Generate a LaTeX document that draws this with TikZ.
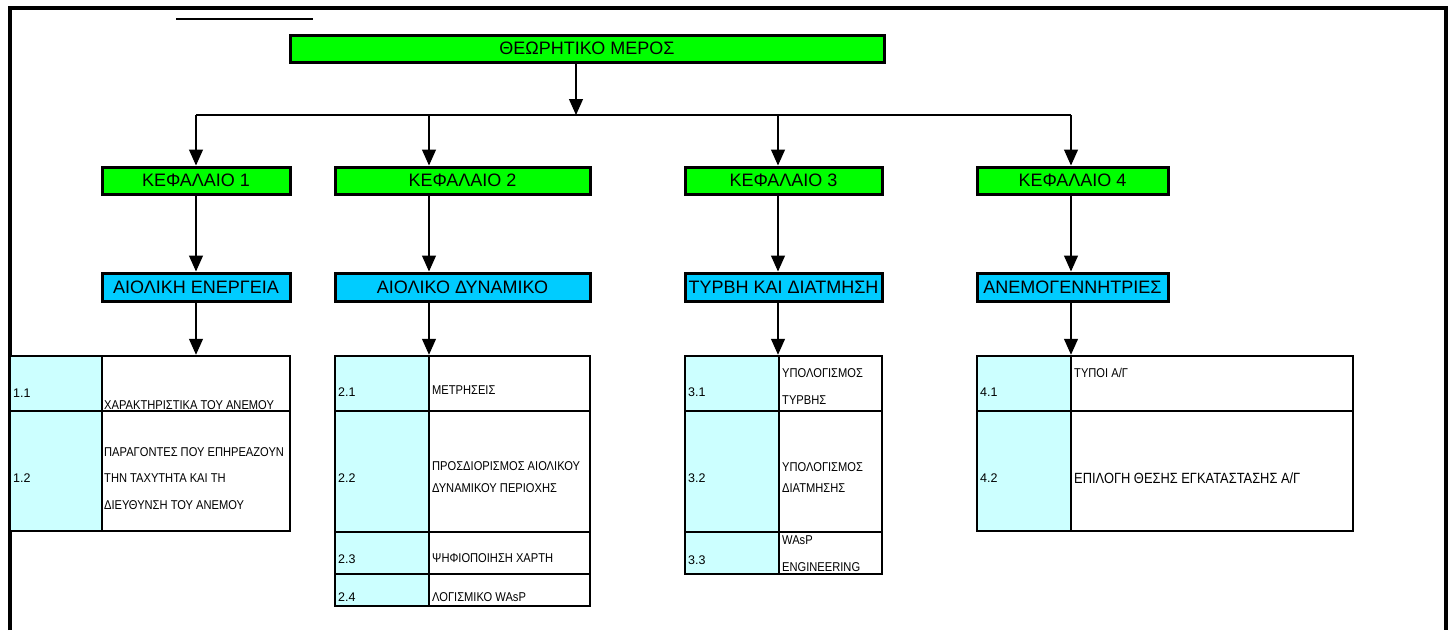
\documentclass[tikz,border=0pt]{standalone}
\usepackage{fontspec}
\setmainfont{Liberation Sans}
\newfontfamily\condfont[FakeStretch=0.87]{Liberation Sans}
\usetikzlibrary{arrows.meta}
\definecolor{cgreen}{RGB}{0,255,0}
\definecolor{cblue}{RGB}{0,204,255}
\definecolor{ccyan}{RGB}{204,255,255}
\begin{document}
\begin{tikzpicture}[x=1pt,y=-1pt,
  box/.style={draw, line width=3pt, inner sep=0pt, font=\fontsize{18}{20}\selectfont},
  gbox/.style={box, fill=cgreen},
  bbox/.style={box, fill=cblue},
  numcell/.style={draw, line width=2.5pt, fill=ccyan, inner sep=0pt},
  txtcell/.style={draw, line width=2.5pt, fill=white, inner sep=0pt},
  lbl/.style={anchor=west, inner sep=0pt, font=\condfont\fontsize{12.8}{14}\selectfont},
  lblb/.style={anchor=west, inner sep=0pt, font=\condfont\fontsize{14.8}{16}\selectfont},
  num/.style={anchor=west, inner sep=0pt, font=\fontsize{12.5}{14}\selectfont},
  conn/.style={line width=1.2pt, -{Triangle[width=14pt,length=16pt]}},
  frameline/.style={line width=4pt},
]
\useasboundingbox (0,0) rectangle (1453,630);
% frame
\draw[frameline] (10,630) -- (10,8) -- (1446,8) -- (1446,630);
\draw[line width=2pt] (176,19) -- (313,19);

% title
\node[gbox, minimum width=594pt, minimum height=27pt] (title) at (587,48.5) {ΘΕΩΡΗΤΙΚΟ ΜΕΡΟΣ};

% branch coordinates
\coordinate (ht) at (576,115);
\coordinate (h1) at (196,115);
\coordinate (h2) at (429,115);
\coordinate (h3) at (778,115);
\coordinate (h4) at (1071,115);

% chapter boxes
\node[gbox, minimum width=188pt, minimum height=27pt] (k1) at (196,180.5) {ΚΕΦΑΛΑΙΟ 1};
\node[gbox, minimum width=255pt, minimum height=27pt] (k2) at (462.5,180.5) {ΚΕΦΑΛΑΙΟ 2};
\node[gbox, minimum width=197pt, minimum height=27pt] (k3) at (783.5,180.5) {ΚΕΦΑΛΑΙΟ 3};
\node[gbox, minimum width=191pt, minimum height=27pt] (k4) at (1072.5,180.5) {ΚΕΦΑΛΑΙΟ 4};

% blue boxes
\node[bbox, minimum width=188pt, minimum height=28pt] (b1) at (196,287) {ΑΙΟΛΙΚΗ ΕΝΕΡΓΕΙΑ};
\node[bbox, minimum width=255pt, minimum height=28pt] (b2) at (462.5,287) {ΑΙΟΛΙΚΟ ΔΥΝΑΜΙΚΟ};
\node[bbox, minimum width=197pt, minimum height=28pt] (b3) at (783.5,287) {ΤΥΡΒΗ ΚΑΙ ΔΙΑΤΜΗΣΗ};
\node[bbox, minimum width=191pt, minimum height=28pt] (b4) at (1072.5,287) {ΑΝΕΜΟΓΕΝΝΗΤΡΙΕΣ};

% table 1
\node[numcell, minimum width=92pt, minimum height=55pt] (t1a) at (56,383.5) {};
\node[txtcell, minimum width=188pt, minimum height=55pt] (t1b) at (196,383.5) {};
\node[numcell, minimum width=92pt, minimum height=120pt] (t1c) at (56,471) {};
\node[txtcell, minimum width=188pt, minimum height=120pt] (t1d) at (196,471) {};
\node[num] (n11) at (13,393) {1.1};
\node[lbl] (x11) at (104,405) {ΧΑΡΑΚΤΗΡΙΣΤΙΚΑ ΤΟΥ ΑΝΕΜΟΥ};
\node[num] (n12) at (13,478) {1.2};
\node[lbl] (x12a) at (104,452) {ΠΑΡΑΓΟΝΤΕΣ ΠΟΥ ΕΠΗΡΕΑΖΟΥΝ};
\node[lbl] (x12b) at (104,478) {ΤΗΝ ΤΑΧΥΤΗΤΑ ΚΑΙ ΤΗ};
\node[lbl] (x12c) at (104,505) {ΔΙΕΥΘΥΝΣΗ ΤΟΥ ΑΝΕΜΟΥ};

% table 2
\node[numcell, minimum width=94pt, minimum height=55pt] (t2a) at (382,383.5) {};
\node[txtcell, minimum width=161pt, minimum height=55pt] (t2b) at (509.5,383.5) {};
\node[numcell, minimum width=94pt, minimum height=121pt] (t2c) at (382,471.5) {};
\node[txtcell, minimum width=161pt, minimum height=121pt] (t2d) at (509.5,471.5) {};
\node[numcell, minimum width=94pt, minimum height=42pt] (t2e) at (382,553) {};
\node[txtcell, minimum width=161pt, minimum height=42pt] (t2f) at (509.5,553) {};
\node[numcell, minimum width=94pt, minimum height=32pt] (t2g) at (382,590) {};
\node[txtcell, minimum width=161pt, minimum height=32pt] (t2h) at (509.5,590) {};
\node[num] (n21) at (338,392) {2.1};
\node[lbl] (x21) at (432,390) {ΜΕΤΡΗΣΕΙΣ};
\node[num] (n22) at (338,478) {2.2};
\node[lbl] (x22a) at (432,466) {ΠΡΟΣΔΙΟΡΙΣΜΟΣ ΑΙΟΛΙΚΟΥ};
\node[lbl] (x22b) at (432,488) {ΔΥΝΑΜΙΚΟΥ ΠΕΡΙΟΧΗΣ};
\node[num] (n23) at (338,559) {2.3};
\node[lbl] (x23) at (432,558) {ΨΗΦΙΟΠΟΙΗΣΗ ΧΑΡΤΗ};
\node[num] (n24) at (338,597) {2.4};
\node[lbl] (x24) at (432,597) {ΛΟΓΙΣΜΙΚΟ WAsP};

% table 3
\node[numcell, minimum width=94pt, minimum height=55pt] (t3a) at (732,383.5) {};
\node[txtcell, minimum width=103pt, minimum height=55pt] (t3b) at (830.5,383.5) {};
\node[numcell, minimum width=94pt, minimum height=121pt] (t3c) at (732,471.5) {};
\node[txtcell, minimum width=103pt, minimum height=121pt] (t3d) at (830.5,471.5) {};
\node[numcell, minimum width=94pt, minimum height=42pt] (t3e) at (732,553) {};
\node[txtcell, minimum width=103pt, minimum height=42pt] (t3f) at (830.5,553) {};
\node[num] (n31) at (688,392) {3.1};
\node[lbl] (x31a) at (782,373) {ΥΠΟΛΟΓΙΣΜΟΣ};
\node[lbl] (x31b) at (782,400) {ΤΥΡΒΗΣ};
\node[num] (n32) at (688,478) {3.2};
\node[lbl] (x32a) at (782,467) {ΥΠΟΛΟΓΙΣΜΟΣ};
\node[lbl] (x32b) at (782,488) {ΔΙΑΤΜΗΣΗΣ};
\node[num] (n33) at (688,560) {3.3};
\node[lbl] (x33a) at (782,540) {WAsP};
\node[lbl] (x33b) at (782,567) {ENGINEERING};

% table 4
\node[numcell, minimum width=94pt, minimum height=55pt] (t4a) at (1024,383.5) {};
\node[txtcell, minimum width=282pt, minimum height=55pt] (t4b) at (1212,383.5) {};
\node[numcell, minimum width=94pt, minimum height=120pt] (t4c) at (1024,471) {};
\node[txtcell, minimum width=282pt, minimum height=120pt] (t4d) at (1212,471) {};
\node[num] (n41) at (980,392) {4.1};
\node[lbl] (x41) at (1074,373) {ΤΥΠΟΙ Α/Γ};
\node[num] (n42) at (980,478) {4.2};
\node[lblb] (x42) at (1074,478) {ΕΠΙΛΟΓΗ ΘΕΣΗΣ ΕΓΚΑΤΑΣΤΑΣΗΣ Α/Γ};

% connectors
\draw[line width=1.2pt] (h1) -- (h4);
\draw[conn] (title.south -| ht) -- (ht);
\draw[conn] (h1) -- (h1 |- k1.north);
\draw[conn] (h2) -- (h2 |- k2.north);
\draw[conn] (h3) -- (h3 |- k3.north);
\draw[conn] (h4) -- (h4 |- k4.north);
\draw[conn] (k1.south -| h1) -- (b1.north -| h1);
\draw[conn] (k2.south -| h2) -- (b2.north -| h2);
\draw[conn] (k3.south -| h3) -- (b3.north -| h3);
\draw[conn] (k4.south -| h4) -- (b4.north -| h4);
\draw[conn] (b1.south -| h1) -- (t1b.north -| h1);
\draw[conn] (b2.south -| h2) -- (t2a.north -| h2);
\draw[conn] (b3.south -| h3) -- (t3a.north -| h3);
\draw[conn] (b4.south -| h4) -- (t4a.north -| h4);
\end{tikzpicture}
\end{document}
